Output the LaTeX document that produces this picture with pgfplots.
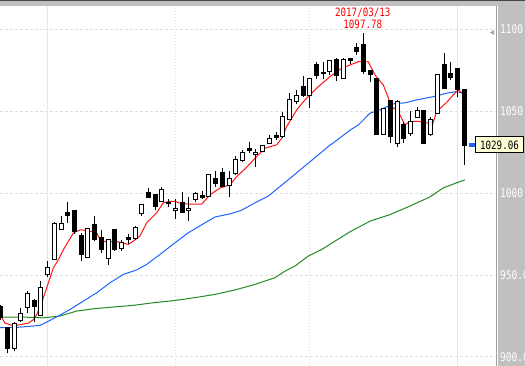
\documentclass[border=0pt]{standalone}
\usepackage{fontspec}
\usepackage{pgfplots}
\pgfplotsset{compat=1.18}
\usepackage{pgfplotstable}
\newfontfamily\narrowmono[FakeStretch=0.8]{DejaVu Sans Mono}
\definecolor{panelgray}{RGB}{192,192,192}
\definecolor{topdark}{RGB}{70,70,70}
\definecolor{sepgray}{RGB}{160,160,160}
\definecolor{gridc}{RGB}{222,222,222}
\definecolor{gridsolid}{RGB}{230,230,230}
\definecolor{mared}{RGB}{255,20,20}
\definecolor{mablue}{RGB}{30,100,255}
\definecolor{magreen}{RGB}{34,139,34}
\definecolor{cream}{RGB}{255,255,215}
\definecolor{annred}{RGB}{255,0,0}
\def\upt{1.6386}
\pgfdeclareplotmark{emptymark}{}

\pgfplotstableread{
o h l c
930.9 931.9 922.7 923.8
917.9 918.5 902.6 905.1
904.9 921.3 903.4 920.7
922.1 929.9 921.5 926.8
929.9 940.0 926.8 938.6
934.3 935.4 921.1 930.9
925.6 946.5 925.6 942.7
950.6 958.7 949.1 954.9
959.3 982.1 959.3 981.3
977.6 986.2 977.6 981.3
988.2 994.3 981.7 986.6
989.2 989.2 975.2 976.4
974.0 975.6 958.3 962.8
961.0 978.6 961.0 978.6
980.7 986.2 970.5 971.9
973.2 977.2 963.4 965.4
960.4 971.9 955.9 971.9
977.6 978.2 964.8 965.4
966.5 971.5 964.8 970.1
972.9 975.0 968.9 971.7
972.6 980.1 971.5 979.3
987.8 993.3 986.2 993.3
1000.6 1003.0 997.3 997.3
999.0 999.0 989.4 991.8
994.9 1004.0 994.3 1002.0
994.5 996.3 991.8 993.5
989.4 996.3 984.3 990.8
994.5 1000.4 987.6 988.2
989.4 997.9 982.7 990.8
996.3 1000.6 994.3 1000.0
998.4 1001.6 996.3 997.6
997.9 1011.6 997.9 1011.2
1009.1 1013.2 1004.0 1005.7
1012.8 1015.2 1003.7 1004.0
1004.6 1013.2 997.9 1009.1
1012.2 1022.9 1011.2 1020.7
1020.1 1026.4 1019.1 1024.9
1027.2 1031.1 1024.4 1026.0
1023.5 1027.0 1016.2 1025.0
1025.4 1029.4 1024.8 1028.8
1030.5 1035.6 1030.5 1033.1
1035.0 1037.6 1032.5 1033.7
1034.5 1049.8 1033.5 1047.0
1045.1 1061.3 1044.7 1056.9
1055.9 1063.0 1054.3 1059.3
1065.0 1071.5 1058.9 1059.3
1059.3 1070.1 1051.8 1070.1
1078.7 1080.2 1069.5 1071.5
1072.7 1079.9 1069.7 1073.8
1074.1 1081.3 1072.1 1080.7
1081.7 1082.3 1068.5 1071.5
1070.1 1082.3 1070.1 1081.3
1081.9 1082.7 1078.8 1080.9
1089.0 1091.5 1084.3 1086.3
1090.4 1097.78 1072.7 1074.1
1074.6 1074.6 1068.1 1072.6
1069.7 1069.7 1035.5 1035.5
1035.5 1051.8 1035.5 1051.8
1056.5 1056.9 1030.5 1034.5
1030.5 1056.9 1028.4 1055.9
1041.6 1043.7 1030.5 1033.5
1036.6 1050.2 1035.1 1043.7
1046.3 1052.8 1045.7 1050.4
1050.2 1050.2 1030.5 1030.5
1035.9 1046.7 1035.1 1044.7
1048.8 1072.6 1048.8 1072.6
1078.7 1085.4 1064.0 1064.0
1073.2 1079.9 1069.1 1070.7
1075.8 1075.8 1058.5 1063.0
1063.0 1063.0 1017.3 1029.06
}\candles

\pgfplotstableread{
i v
-0.09 925.8
0.65 920.7
1.89 919.1
2.89 919.7
4.12 920.7
4.87 922.7
5.37 925.8
5.86 930.9
6.35 936.0
7.10 945.1
7.84 954.3
8.59 959.3
9.33 965.4
10.07 970.5
10.82 975.6
11.82 977.6
12.81 977.2
14.30 975.8
14.79 971.7
15.79 970.1
17.02 970.7
18.02 969.7
19.00 968.7
19.75 970.7
20.74 973.8
21.74 981.9
23.23 988.0
24.21 994.1
25.21 995.0
25.95 995.0
26.95 993.5
28.44 993.3
29.93 993.3
31.16 999.0
32.65 1003.1
34.14 1005.1
35.13 1010.1
36.37 1014.8
38.11 1022.3
39.35 1027.4
41.09 1029.5
41.83 1033.5
42.57 1040.6
44.06 1050.8
45.30 1056.9
46.04 1060.0
47.28 1065.0
49.02 1071.1
50.76 1076.2
51.99 1078.2
53.23 1080.2
54.72 1080.1
55.71 1072.1
56.95 1066.0
58.20 1052.8
59.18 1049.8
60.18 1041.6
60.92 1043.8
62.41 1043.7
63.65 1042.7
64.15 1040.6
64.90 1049.8
66.38 1055.4
67.37 1060.0
68.11 1063.0
68.85 1060.5
}\redma

\pgfplotstableread{
i v
-0.09 917.9
1.89 917.9
4.87 918.9
5.86 919.3
6.86 921.3
8.59 925.0
10.33 929.0
12.31 934.1
14.30 939.2
16.28 945.3
18.26 950.4
20.25 953.1
21.74 956.5
23.72 962.6
25.95 969.7
27.93 975.8
30.42 981.9
31.90 985.4
34.39 987.6
35.88 989.6
37.86 994.1
39.84 998.2
41.32 1003.2
42.32 1006.5
45.79 1018.3
48.76 1028.4
50.76 1034.5
51.99 1038.4
53.23 1041.6
54.97 1048.8
56.46 1050.8
58.44 1054.5
60.18 1055.1
61.92 1056.9
64.39 1058.9
66.38 1061.0
67.87 1062.0
69.11 1060.6
}\bluema

\pgfplotstableread{
i v
-0.09 924.4
2.89 924.4
6.35 923.9
8.84 925.0
11.32 928.0
13.79 929.4
16.77 930.5
19.75 931.5
22.72 933.1
25.95 934.5
28.93 936.2
31.90 938.2
34.88 940.9
37.86 944.3
40.83 948.4
42.32 952.4
43.81 955.5
45.79 961.6
47.78 965.6
49.76 970.7
51.99 976.4
54.97 982.9
57.95 986.9
60.92 992.1
63.89 997.7
65.88 1003.2
67.87 1006.3
69.11 1008.1
}\greenma

\begin{document}
\begin{tikzpicture}[x=1pt,y=1pt]
\path[use as bounding box] (0,0) rectangle (525,366);
\fill[panelgray] (0,0) rectangle (525,366);
\fill[white] (0,0) rectangle (496,360);
\fill[topdark] (0,364.7) rectangle (525,366);
\fill[sepgray] (496,0) rectangle (497,360);
\fill[white] (497,0) rectangle (498,360);
\begin{axis}[
  at={(0,0)}, anchor=south west,
  scale only axis, width=496pt, height=360pt,
  xmin=-0.09, xmax=73.72, ymin=894.5, ymax=1114.2,
  axis line style={draw=none},
  tick style={draw=none},
  major tick length=0pt,
  xtick=\empty,
  ytick={900,950,1000,1050,1100},
  yticklabels={900.0,950.0,1000,1050,1100},
  yticklabel pos=right,
  yticklabel style={font=\narrowmono\fontsize{11.9}{12}\selectfont, text=white, anchor=west, inner sep=0pt, xshift=4pt},
  ymajorgrids,
  major grid style={draw=gridc, line width=1pt, dash pattern=on 3pt off 2pt},
  clip=true,
]
\draw[gridsolid, line width=1.3pt] (axis cs:7,894.5) -- (axis cs:7,1114.2);
\draw[gridsolid, line width=1.3pt] (axis cs:68,894.5) -- (axis cs:68,1114.2);
\draw[gridc, line width=1pt, dash pattern=on 1pt off 2pt] (axis cs:26,894.5) -- (axis cs:26,1114.2);
\draw[gridc, line width=1pt, dash pattern=on 1pt off 2pt] (axis cs:46,894.5) -- (axis cs:46,1114.2);
\addplot[only marks, scatter, mark=emptymark,
  visualization depends on={\thisrow{h} \as \ch},
  visualization depends on={\thisrow{l} \as \cl},
  visualization depends on={\thisrow{o} \as \co},
  visualization depends on={\thisrow{c} \as \cc},
  scatter/@pre marker code/.code={%
    \pgfmathsetmacro\yH{(\ch-\cl)*\upt}%
    \pgfmathsetmacro\yO{(\co-\cl)*\upt}%
    \pgfmathsetmacro\yC{(\cc-\cl)*\upt}%
    \ifdim\yC pt>\yO pt\def\bodyfill{white}\else\def\bodyfill{black}\fi
    \draw[black, line width=1pt] (0pt,0pt) -- (0pt,\yH pt);
    \filldraw[draw=black, fill=\bodyfill, line width=1pt] (-2pt,\yO pt) rectangle (2pt,\yC pt);
  },
  scatter/@post marker code/.code={},
] table[x expr=\coordindex, y=l] {\candles};
\addplot[magreen, line width=1pt] table[x=i, y=v] {\greenma};
\addplot[mablue, line width=1pt] table[x=i, y=v] {\bluema};
\addplot[mared, line width=1pt] table[x=i, y=v] {\redma};
\end{axis}
\fill[sepgray] (490,333.5) -- (494,335.8) -- (494,331.2) -- cycle;
\node[anchor=base, text=annred, font=\narrowmono\fontsize{11.5}{12}\selectfont, inner sep=0pt] at (362.8,349.3) {2017/03/13};
\node[anchor=base, text=annred, font=\narrowmono\fontsize{11.5}{12}\selectfont, inner sep=0pt] at (362.8,337) {1097.78};
\fill[mablue] (469.3,219.3) rectangle (475,222.7);
\node[draw=black, line width=1pt, fill=cream, anchor=west, minimum width=48pt, minimum height=16pt, inner sep=0pt, font=\narrowmono\fontsize{11.5}{12}\selectfont] at (475,221) {1029.06};
\end{tikzpicture}
\end{document}
